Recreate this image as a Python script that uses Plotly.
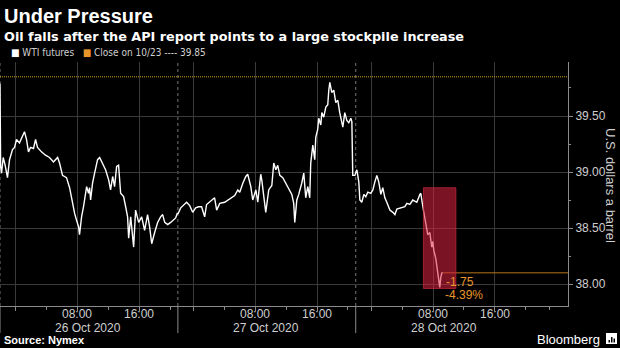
import plotly.graph_objects as go

# WTI crude futures, intraday (UTC), 25-28 Oct 2020
times = [
    "2020-10-25 22:00", "2020-10-25 22:05", "2020-10-25 22:12", "2020-10-25 22:25", "2020-10-25 22:40",
    "2020-10-25 22:58", "2020-10-25 23:14", "2020-10-25 23:37", "2020-10-25 23:53", "2020-10-26 00:08",
    "2020-10-26 00:31", "2020-10-26 01:02", "2020-10-26 01:10", "2020-10-26 01:26", "2020-10-26 01:41",
    "2020-10-26 01:57", "2020-10-26 02:20", "2020-10-26 02:36", "2020-10-26 02:51", "2020-10-26 03:22",
    "2020-10-26 03:53", "2020-10-26 04:24", "2020-10-26 04:55", "2020-10-26 05:27", "2020-10-26 05:42",
    "2020-10-26 06:05", "2020-10-26 06:36", "2020-10-26 07:00", "2020-10-26 07:23", "2020-10-26 07:39",
    "2020-10-26 07:54", "2020-10-26 08:10", "2020-10-26 08:17", "2020-10-26 08:33", "2020-10-26 08:48",
    "2020-10-26 09:04", "2020-10-26 09:12", "2020-10-26 09:27", "2020-10-26 09:35", "2020-10-26 09:43",
    "2020-10-26 09:58", "2020-10-26 10:14", "2020-10-26 10:37", "2020-10-26 10:53", "2020-10-26 11:16",
    "2020-10-26 11:39", "2020-10-26 12:03", "2020-10-26 12:18", "2020-10-26 12:34", "2020-10-26 12:49",
    "2020-10-26 13:05", "2020-10-26 13:20", "2020-10-26 13:36", "2020-10-26 13:59", "2020-10-26 14:15",
    "2020-10-26 14:30", "2020-10-26 14:38", "2020-10-26 14:54", "2020-10-26 15:17", "2020-10-26 15:32",
    "2020-10-26 15:56", "2020-10-26 16:19", "2020-10-26 16:42", "2020-10-26 17:05", "2020-10-26 17:21",
    "2020-10-26 17:37", "2020-10-26 18:00", "2020-10-26 18:23", "2020-10-26 18:46", "2020-10-26 19:02",
    "2020-10-26 19:18", "2020-10-26 19:41", "2020-10-26 20:04", "2020-10-26 20:27", "2020-10-26 20:43",
    "2020-10-26 20:55",
    "2020-10-26 22:02", "2020-10-26 22:22", "2020-10-26 22:53", "2020-10-26 23:08", "2020-10-26 23:32",
    "2020-10-26 23:55", "2020-10-27 00:18", "2020-10-27 00:41", "2020-10-27 01:04", "2020-10-27 01:28",
    "2020-10-27 01:43", "2020-10-27 02:06", "2020-10-27 02:45", "2020-10-27 03:01", "2020-10-27 03:25",
    "2020-10-27 04:03", "2020-10-27 04:42", "2020-10-27 05:21", "2020-10-27 05:45", "2020-10-27 06:00",
    "2020-10-27 06:24", "2020-10-27 06:47", "2020-10-27 07:02", "2020-10-27 07:26", "2020-10-27 07:41",
    "2020-10-27 08:05", "2020-10-27 08:20", "2020-10-27 08:43", "2020-10-27 08:51", "2020-10-27 09:07",
    "2020-10-27 09:22", "2020-10-27 09:45", "2020-10-27 10:09", "2020-10-27 10:24", "2020-10-27 10:40",
    "2020-10-27 10:55", "2020-10-27 11:11", "2020-10-27 11:34", "2020-10-27 11:57", "2020-10-27 12:20",
    "2020-10-27 12:44", "2020-10-27 12:59", "2020-10-27 13:07", "2020-10-27 13:23", "2020-10-27 13:38",
    "2020-10-27 14:01", "2020-10-27 14:17", "2020-10-27 14:32", "2020-10-27 14:48", "2020-10-27 15:03",
    "2020-10-27 15:11", "2020-10-27 15:27", "2020-10-27 15:42", "2020-10-27 15:50", "2020-10-27 16:05",
    "2020-10-27 16:13", "2020-10-27 16:29", "2020-10-27 16:37", "2020-10-27 16:52", "2020-10-27 17:08",
    "2020-10-27 17:23", "2020-10-27 17:31", "2020-10-27 17:39", "2020-10-27 17:54", "2020-10-27 18:10",
    "2020-10-27 18:25", "2020-10-27 18:41", "2020-10-27 18:56", "2020-10-27 19:12", "2020-10-27 19:20",
    "2020-10-27 19:35", "2020-10-27 19:51", "2020-10-27 20:06", "2020-10-27 20:22", "2020-10-27 20:30",
    "2020-10-27 20:37", "2020-10-27 20:53",
    "2020-10-27 22:09", "2020-10-27 22:24", "2020-10-27 22:32", "2020-10-27 22:47", "2020-10-27 23:03",
    "2020-10-27 23:18", "2020-10-27 23:34", "2020-10-27 23:57", "2020-10-28 00:13", "2020-10-28 00:28",
    "2020-10-28 00:44", "2020-10-28 00:59", "2020-10-28 01:15", "2020-10-28 01:30", "2020-10-28 01:46",
    "2020-10-28 02:01", "2020-10-28 02:25", "2020-10-28 02:48", "2020-10-28 03:04", "2020-10-28 03:19",
    "2020-10-28 03:42", "2020-10-28 04:06", "2020-10-28 04:21", "2020-10-28 04:37", "2020-10-28 05:00",
    "2020-10-28 05:23", "2020-10-28 05:54", "2020-10-28 06:18", "2020-10-28 06:25", "2020-10-28 06:41",
    "2020-10-28 06:56", "2020-10-28 07:12", "2020-10-28 07:19", "2020-10-28 07:35", "2020-10-28 07:43",
    "2020-10-28 07:50", "2020-10-28 07:58", "2020-10-28 08:06", "2020-10-28 08:21", "2020-10-28 08:29",
    "2020-10-28 08:37", "2020-10-28 08:45", "2020-10-28 08:52", "2020-10-28 09:00", "2020-10-28 09:08",
    "2020-10-28 09:16",
]

prices = [
    39.79, 39.05, 38.99, 39.13, 39.06,
    38.95, 39.11, 39.20, 39.22, 39.29,
    39.26, 39.35, 39.36, 39.29, 39.18,
    39.22, 39.21, 39.29, 39.22, 39.18,
    39.15, 39.13, 39.09, 39.13, 39.08,
    38.97, 38.95, 38.86, 38.72, 38.63,
    38.57, 38.51, 38.44, 38.60, 38.69,
    38.81, 38.87, 38.81, 38.86, 38.75,
    38.90, 38.99, 39.11, 39.13, 39.08,
    39.02, 38.93, 38.84, 38.96, 38.87,
    39.05, 39.06, 38.81, 38.78, 38.69,
    38.60, 38.41, 38.60, 38.33, 38.66,
    38.55, 38.60, 38.48, 38.62, 38.51,
    38.36, 38.46, 38.55, 38.60, 38.62,
    38.55, 38.53, 38.55, 38.57, 38.59,
    38.63,
    38.63, 38.68, 38.72, 38.73, 38.70,
    38.64, 38.68, 38.69, 38.69, 38.60,
    38.71, 38.73, 38.77, 38.66, 38.72,
    38.73, 38.76, 38.79, 38.84, 38.82,
    38.90, 38.96, 38.98, 38.87, 38.75,
    38.84, 38.73, 38.98, 38.93, 38.75,
    38.64, 38.84, 38.88, 39.08, 39.02,
    39.06, 38.97, 38.95, 38.90, 38.84,
    38.80, 38.72, 38.55, 38.75, 38.80,
    38.90, 38.99, 38.77, 38.87, 38.77,
    39.08, 39.24, 39.11, 39.31, 39.38,
    39.48, 39.42, 39.53, 39.49, 39.58,
    39.60, 39.73, 39.80, 39.71, 39.73,
    39.62, 39.64, 39.53, 39.46, 39.40,
    39.53, 39.46, 39.44, 39.48, 39.45,
    38.97, 38.97,
    39.02, 38.91, 38.75, 38.73, 38.80,
    38.78, 38.82, 38.81, 38.84, 38.91,
    38.97, 38.91, 38.80, 38.86, 38.77,
    38.73, 38.66, 38.64, 38.62, 38.67,
    38.68, 38.69, 38.69, 38.72, 38.71,
    38.75, 38.73, 38.80, 38.81, 38.69,
    38.60, 38.48, 38.44, 38.46, 38.39,
    38.33, 38.38, 38.30, 38.23, 38.17,
    38.11, 38.04, 37.97, 38.06, 38.10,
    38.10,
]

close_1023 = 39.85
close_label = "Close on 10/23 ---- 39.85"
series_label = "WTI futures"

# Sell-off window highlighted on 28 Oct
drop_start = "2020-10-28 06:45"
drop_end = "2020-10-28 10:57"
drop_high = 38.86
drop_low = 37.96

# Session starts (NYMEX reopens 22:00 UTC)
session_starts = ["2020-10-25 22:00", "2020-10-26 22:00", "2020-10-27 22:00"]

# x-axis ticks: gridlines every 8 hours, labels at 08:00 and 16:00
x_tickvals = [
    "2020-10-26 00:00", "2020-10-26 08:00", "2020-10-26 16:00",
    "2020-10-27 00:00", "2020-10-27 08:00", "2020-10-27 16:00",
    "2020-10-28 00:00", "2020-10-28 08:00", "2020-10-28 16:00",
]
x_ticktext = ["", "08:00", "16:00", "", "08:00", "16:00", "", "08:00", "16:00"]
date_labels = [
    ("2020-10-26 08:00", "26 Oct 2020"),
    ("2020-10-27 08:00", "27 Oct 2020"),
    ("2020-10-28 08:00", "28 Oct 2020"),
]
y_tickvals = [38.0, 38.5, 39.0, 39.5]

x_range = ["2020-10-25 22:00", "2020-10-29 02:27"]
y_range = [37.804, 39.982]

# Layout geometry (pixels)
W, H = 620, 348
M_L, M_R, M_T, M_B = 0, 52, 62, 42
PLOT_W = W - M_L - M_R
PLOT_H = H - M_T - M_B


def py(pix):
    """Pixel row (from top of page) -> paper y."""
    return (H - M_B - pix) / PLOT_H


def px(pix):
    """Pixel column (from left of page) -> paper x."""
    return (pix - M_L) / PLOT_W


GRID = "#3a3a3a"
AXIS = "#8a8a8a"
TEXT = "#cfcfcf"
ORANGE = "#e8952a"
FONT = "Liberation Sans, Arial, sans-serif"
WIDE = "DejaVu Sans, Verdana, sans-serif"
NARROW = "DejaVu Sans Condensed, Liberation Sans Narrow, Arial Narrow, sans-serif"

last_price = prices[-1]
last_time = times[-1]
change = last_price - close_1023
pct = change / close_1023 * 100

fig = go.Figure()
fig.add_trace(go.Scatter(
    x=times, y=prices, mode="lines",
    line=dict(color="white", width=1.4),
    hoverinfo="skip", showlegend=False,
))

shapes = []
# close on 10/23 reference line
shapes.append(dict(type="line", xref="paper", yref="y", x0=0, x1=1,
                   y0=close_1023, y1=close_1023,
                   line=dict(color="#c9a11c", width=1, dash="1px,1px"), layer="above"))
# session separators: dashed inside the plot, solid below the axis
for s in session_starts:
    shapes.append(dict(type="line", xref="x", yref="paper", x0=s, x1=s, y0=0, y1=1,
                       line=dict(color="#777777", width=1, dash="3px,3px"), layer="below"))
    shapes.append(dict(type="line", xref="x", yref="paper", x0=s, x1=s, y0=py(333), y1=0,
                       line=dict(color="#8a8a8a", width=1)))
# last price line
shapes.append(dict(type="line", xref="x", yref="y", x0=last_time, x1=x_range[1],
                   y0=last_price, y1=last_price,
                   line=dict(color="#b8741a", width=1), layer="above"))
# sell-off highlight box
shapes.append(dict(type="rect", xref="x", yref="y", x0=drop_start, x1=drop_end,
                   y0=drop_low, y1=drop_high,
                   fillcolor="rgba(222,34,66,0.55)",
                   line=dict(color="rgba(200,40,60,0.7)", width=1), layer="above"))
# Bloomberg mark
shapes.append(dict(type="rect", xref="paper", yref="paper",
                   x0=px(606), x1=px(617), y0=py(344), y1=py(333),
                   fillcolor="white", line=dict(width=0)))
for bx, top in [(608.5, 340), (611, 337), (613.5, 338.5)]:
    shapes.append(dict(type="rect", xref="paper", yref="paper",
                       x0=px(bx), x1=px(bx + 1.5), y0=py(342.5), y1=py(top),
                       fillcolor="black", line=dict(width=0)))

annotations = [
    dict(xref="paper", yref="paper", x=px(2), y=py(3), xanchor="left", yanchor="top",
         text="<b>Under Pressure</b>", showarrow=False,
         font=dict(family=FONT, size=20, color="white")),
    dict(xref="paper", yref="paper", x=px(2), y=py(36), xanchor="left", yanchor="middle",
         text="<b>Oil falls after the API report points to a large stockpile increase</b>",
         showarrow=False, font=dict(family=WIDE, size=12.8, color="white")),
    dict(xref="paper", yref="paper", x=px(9), y=py(52), xanchor="left", yanchor="middle",
         text=("<span style='color:white'>■</span> " + series_label +
               "   <span style='color:#e8952a'>■</span> " + close_label),
         showarrow=False, font=dict(family=NARROW, size=10, color=TEXT)),
    dict(xref="paper", yref="paper", x=px(2), y=py(340), xanchor="left", yanchor="middle",
         text="<b>Source: Nymex</b>", showarrow=False,
         font=dict(family=FONT, size=11, color="white")),
    dict(xref="paper", yref="paper", x=px(602), y=py(339), xanchor="right", yanchor="middle",
         text="Bloomberg", showarrow=False,
         font=dict(family=FONT, size=13, color="white")),
    # y-axis title, reading top to bottom
    dict(xref="paper", yref="paper", x=px(611), y=py(185), xanchor="center", yanchor="middle",
         text="U.S. dollars a barrel", textangle=90, showarrow=False,
         font=dict(family=FONT, size=13, color=TEXT)),
    dict(xref="x", yref="y", x=last_time, y=last_price, xanchor="left", yanchor="top",
         xshift=1, text=f"{change:.2f}", showarrow=False,
         font=dict(family=FONT, size=12, color=ORANGE)),
    dict(xref="x", yref="y", x=last_time, y=last_price, xanchor="left", yanchor="top",
         xshift=0, yshift=-13, text=f"{pct:.2f}%", showarrow=False,
         font=dict(family=FONT, size=12, color=ORANGE)),
]
# time labels under the axis
for t, label in zip(x_tickvals, x_ticktext):
    if label:
        annotations.append(dict(xref="x", yref="paper", x=t, y=py(314), xanchor="center",
                                yanchor="middle", text=label, showarrow=False,
                                font=dict(family=FONT, size=12, color=TEXT)))
for t, label in date_labels:
    annotations.append(dict(xref="x", yref="paper", x=t, y=py(328), xanchor="center",
                            yanchor="middle", xshift=11, text=label, showarrow=False,
                            font=dict(family=FONT, size=12, color=TEXT)))

fig.update_layout(
    width=W, height=H,
    margin=dict(l=M_L, r=M_R, t=M_T, b=M_B, pad=0),
    paper_bgcolor="black", plot_bgcolor="black",
    showlegend=False,
    shapes=shapes, annotations=annotations,
    xaxis=dict(
        type="date", range=x_range,
        rangebreaks=[dict(bounds=[21, 22], pattern="hour")],
        tickmode="array", tickvals=x_tickvals, showticklabels=False,
        showgrid=True, gridcolor=GRID, gridwidth=1,
        ticks="outside", ticklen=4, tickcolor=AXIS,
        showline=True, linecolor=AXIS, linewidth=1,
        minor=dict(dtick=4 * 3600 * 1000, ticks="outside", ticklen=3,
                   tickcolor=AXIS, showgrid=False),
        zeroline=False, fixedrange=True,
    ),
    yaxis=dict(
        side="right", range=y_range,
        tickmode="array", tickvals=y_tickvals, tickformat=".2f",
        showgrid=True, gridcolor=GRID, gridwidth=1,
        ticks="outside", ticklen=4, tickcolor=AXIS,
        showline=True, linecolor=AXIS, linewidth=1,
        tickfont=dict(family=FONT, size=12, color=TEXT),
        minor=dict(dtick=0.25, ticks="outside", ticklen=2, tickcolor=AXIS, showgrid=False),
        zeroline=False, fixedrange=True,
    ),
)

fig.write_html("out.html", config={"displayModeBar": False})
